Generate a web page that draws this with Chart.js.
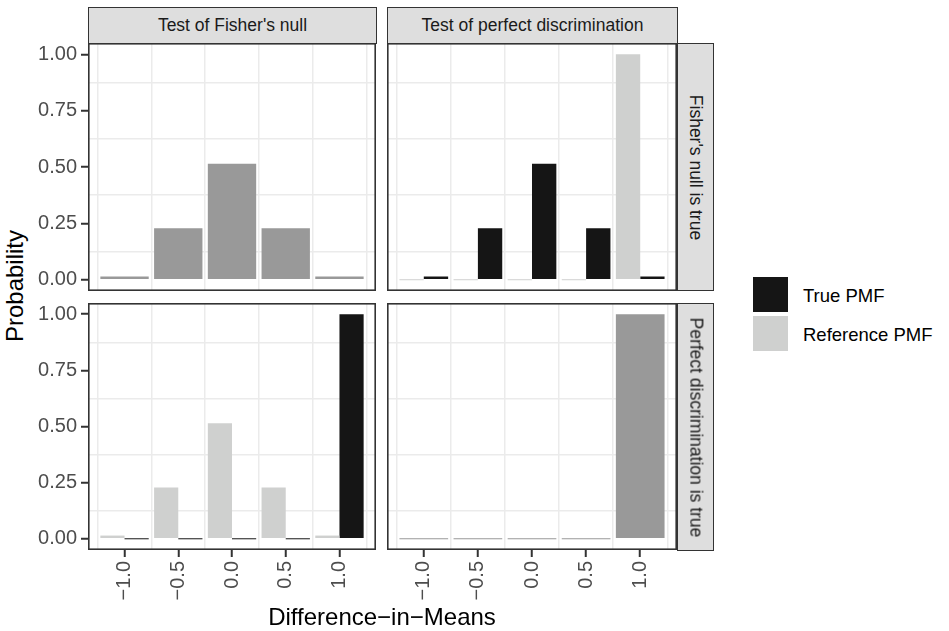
<!DOCTYPE html>
<html>
<head>
<meta charset="utf-8">
<script src="https://cdn.jsdelivr.net/npm/chart.js@4.4.1/dist/chart.umd.min.js"></script>
<style>
  body { margin: 0; background: #fff; font-family: "Liberation Sans", Arial, sans-serif; }
  #wrap { position: relative; width: 949px; height: 631px; overflow: hidden; }
  canvas { position: absolute; }
  .strip {
    position: absolute; box-sizing: border-box; background: #dedede;
    border: 1.5px solid #333; color: #1a1a1a; font-size: 17.5px;
    display: flex; align-items: center; justify-content: center; white-space: nowrap;
  }
  .strip.v span { transform: rotate(90deg); }
  .title { position: absolute; color: #000; font-size: 24px; white-space: nowrap; line-height: 1; }
  .key { position: absolute; width: 35px; height: 35px; }
  .keytxt { position: absolute; font-size: 18.5px; color: #000; line-height: 1; white-space: nowrap; }
</style>
</head>
<body>
<div id="wrap">
  <canvas id="p00" width="346" height="248" style="left:30px;top:43px"></canvas>
  <canvas id="p01" width="290" height="248" style="left:387px;top:43px"></canvas>
  <canvas id="p10" width="346" height="319" style="left:30px;top:303px"></canvas>
  <canvas id="p11" width="290" height="319" style="left:387px;top:303px"></canvas>

  <div class="strip" id="s0" style="left:88px;top:7px;width:289px;height:37px"></div>
  <div class="strip" id="s1" style="left:387px;top:7px;width:291px;height:37px"></div>
  <div class="strip v" id="r0" style="left:677px;top:43px;width:37px;height:248px"></div>
  <div class="strip v" id="r1" style="left:677px;top:303px;width:37px;height:248px"></div>

  <div class="title" style="left:15px;top:286px;transform:translate(-50%,-50%) rotate(-90deg)">Probability</div>
  <div class="title" style="left:382px;top:617px;transform:translate(-50%,-50%)">Difference−in−Means</div>

  <div class="key" style="left:753px;top:277px;background:#151515"></div>
  <div class="key" style="left:753px;top:316px;background:#cfd0cf"></div>
  <div class="keytxt" style="left:803px;top:287px">True PMF</div>
  <div class="keytxt" style="left:803px;top:326px">Reference PMF</div>
</div>
<script>
// data
const diffs = [-1.0, -0.5, 0.0, 0.5, 1.0];
const diffLabels = ["−1.0", "−0.5", "0.0", "0.5", "1.0"];
const probTicks = [0, 0.25, 0.5, 0.75, 1];
const probLabels = ["0.00", "0.25", "0.50", "0.75", "1.00"];
const pmfFisher = [0.0143, 0.2286, 0.5143, 0.2286, 0.0143];
const pmfPerfect = [0, 0, 0, 0, 1];
const colTests = ["Test of Fisher's null", "Test of perfect discrimination"];
const rowTruths = ["Fisher's null is true", "Perfect discrimination is true"];

Chart.defaults.font.family = "'Liberation Sans', Arial, sans-serif";

// minor grid positions sit half way between the breaks
const xMinor = diffs.map(d => d - 0.25).concat([diffs[diffs.length - 1] + 0.25]);
const yMinor = probTicks.slice(1).map(v => v - 0.125);
const xTickVals = xMinor.concat(diffs).sort((a, b) => a - b);
const yTickVals = yMinor.concat(probTicks).sort((a, b) => a - b);

const panelBorder = {
  id: "panelBorder",
  afterDatasetsDraw(chart) {
    const { ctx, chartArea: a } = chart;
    ctx.save();
    ctx.strokeStyle = "#333";
    ctx.lineWidth = 1.6;
    ctx.strokeRect(a.left + 0.8, a.top + 0.8, a.right - a.left - 1.6, a.bottom - a.top - 1.6);
    ctx.restore();
  }
};

function pts(vals) {
  return diffs.map((d, k) => ({ x: d, y: vals[k] }));
}

function makePanel(i, j) {
  const trueVals = i === 0 ? pmfFisher : pmfPerfect;
  const refVals = j === 0 ? pmfFisher : pmfPerfect;
  const same = trueVals.every((v, k) => v === refVals[k]);
  const datasets = same
    ? [{ label: "True PMF = Reference PMF", data: pts(trueVals), backgroundColor: "#999999" }]
    : [
        { label: "Reference PMF", data: pts(refVals), backgroundColor: "#cfd0cf" },
        { label: "True PMF", data: pts(trueVals), backgroundColor: "#151515" }
      ];
  const left = j === 0, bottom = i === 1;

  new Chart(document.getElementById("p" + i + j), {
    type: "bar",
    data: { datasets },
    options: {
      responsive: false,
      animation: false,
      layout: { padding: 0 },
      plugins: { legend: { display: false }, tooltip: { enabled: false } },
      // the minor ticks halve the sample spacing, hence 2 x 0.9
      datasets: { bar: { categoryPercentage: 1.8, barPercentage: 1.0, minBarLength: 1, borderWidth: 0 } },
      scales: {
        x: {
          type: "linear",
          offset: false,
          min: -1.34,
          max: 1.34,
          afterBuildTicks: ax => { ax.ticks = xTickVals.map(v => ({ value: v })); },
          afterFit: ax => { ax.height = bottom ? 72 : 0; ax.paddingLeft = 0; ax.paddingRight = 0; },
          border: { display: false },
          grid: {
            offset: false,
            lineWidth: 1.5,
            color: c => (c.tick && diffs.includes(c.tick.value)) ? "rgba(0,0,0,0)" : "#ebebeb",
            drawTicks: bottom,
            tickLength: 7,
            tickWidth: 2,
            tickColor: c => (c.tick && diffs.includes(c.tick.value)) ? "#333" : "rgba(0,0,0,0)"
          },
          ticks: {
            display: bottom,
            autoSkip: false,
            minRotation: 90,
            maxRotation: 90,
            padding: 4,
            color: "#4d4d4d",
            font: { size: 20 },
            callback: v => { const k = diffs.indexOf(v); return k >= 0 ? diffLabels[k] : ""; }
          }
        },
        y: {
          min: -0.05,
          max: 1.05,
          afterBuildTicks: ax => { ax.ticks = yTickVals.map(v => ({ value: v })); },
          afterFit: ax => { ax.width = left ? 58 : 0; ax.paddingTop = 0; ax.paddingBottom = 0; },
          border: { display: false },
          grid: {
            lineWidth: 1.5,
            color: c => (c.tick && probTicks.includes(c.tick.value)) ? "rgba(0,0,0,0)" : "#ebebeb",
            drawTicks: left,
            tickLength: 7,
            tickWidth: 2,
            tickColor: c => (c.tick && probTicks.includes(c.tick.value)) ? "#333" : "rgba(0,0,0,0)"
          },
          ticks: {
            display: left,
            autoSkip: false,
            padding: 4,
            color: "#4d4d4d",
            font: { size: 20 },
            callback: v => { const k = probTicks.indexOf(v); return k >= 0 ? probLabels[k] : ""; }
          }
        }
      }
    },
    plugins: [panelBorder]
  });
}

for (let i = 0; i < 2; i++) for (let j = 0; j < 2; j++) makePanel(i, j);

document.getElementById("s0").innerHTML = "<span>" + colTests[0] + "</span>";
document.getElementById("s1").innerHTML = "<span>" + colTests[1] + "</span>";
document.getElementById("r0").innerHTML = "<span>" + rowTruths[0] + "</span>";
document.getElementById("r1").innerHTML = "<span>" + rowTruths[1] + "</span>";
</script>
</body>
</html>
